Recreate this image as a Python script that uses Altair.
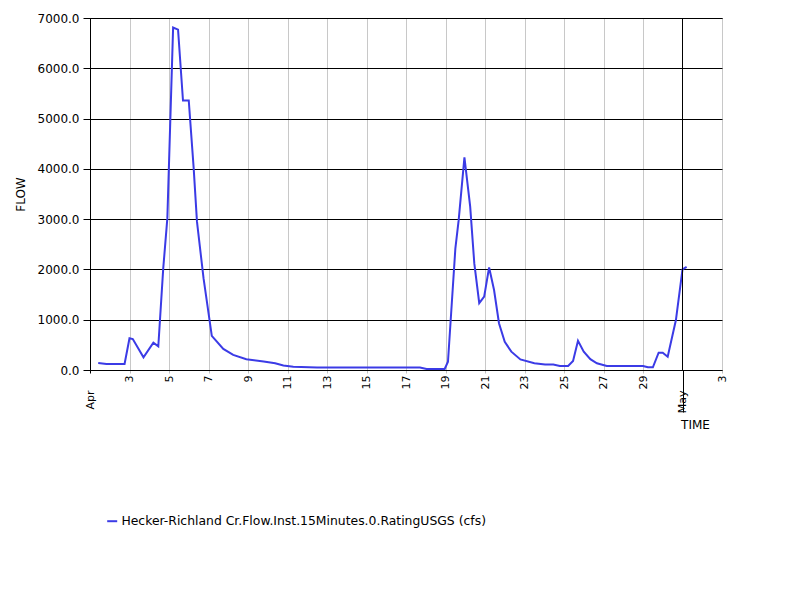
import altair as alt
import pandas as pd

series_name = "Hecker-Richland Cr.Flow.Inst.15Minutes.0.RatingUSGS (cfs)"

times = [
    "2024-04-01T10:00", "2024-04-01T20:00", "2024-04-02T18:00", "2024-04-03T00:00",
    "2024-04-03T04:00", "2024-04-03T17:00", "2024-04-04T05:00", "2024-04-04T11:00",
    "2024-04-04T17:00", "2024-04-04T22:00", "2024-04-05T05:00", "2024-04-05T11:00",
    "2024-04-05T17:00", "2024-04-06T00:00", "2024-04-06T06:00", "2024-04-06T10:00",
    "2024-04-06T18:00", "2024-04-07T04:00", "2024-04-07T18:00", "2024-04-08T06:00",
    "2024-04-08T22:00", "2024-04-09T19:00", "2024-04-10T09:00", "2024-04-10T19:00",
    "2024-04-11T07:00", "2024-04-12T12:00", "2024-04-17T17:00", "2024-04-18T01:00",
    "2024-04-18T23:00", "2024-04-19T03:00", "2024-04-19T12:00", "2024-04-19T16:00",
    "2024-04-19T23:00", "2024-04-20T06:00", "2024-04-20T11:00", "2024-04-20T17:00",
    "2024-04-20T23:00", "2024-04-21T05:00", "2024-04-21T11:00", "2024-04-21T17:00",
    "2024-04-22T00:00", "2024-04-22T08:00", "2024-04-22T19:00", "2024-04-23T12:00",
    "2024-04-24T01:00", "2024-04-24T11:00", "2024-04-24T19:00", "2024-04-25T05:00",
    "2024-04-25T11:00", "2024-04-25T17:00", "2024-04-26T00:00", "2024-04-26T08:00",
    "2024-04-26T16:00", "2024-04-27T04:00", "2024-04-29T00:00", "2024-04-29T06:00",
    "2024-04-29T12:00", "2024-04-29T19:00", "2024-04-30T00:00", "2024-04-30T06:00",
    "2024-04-30T16:00", "2024-05-01T00:00", "2024-05-01T05:00",
]
flow = [
    140, 120, 120, 630,
    615, 252, 543, 470,
    2020, 3020, 6810, 6770,
    5360, 5360, 4010, 2950,
    1820, 680, 420, 300,
    215, 170, 135, 90,
    66, 50, 50, 20,
    20, 165, 2420, 2980,
    4230, 3250, 2120, 1330,
    1460, 2040, 1590, 930,
    560, 365, 210, 135,
    110, 110, 80, 80,
    180, 580, 365, 215,
    133, 80, 80, 53,
    53, 344, 344, 265,
    994, 2000, 2050,
]

day_tick_days = [(4, d) for d in range(3, 30, 2)] + [(5, 3)]
month_tick_days = [(4, 1), (5, 1)]
month_line_dates = ["2024-05-01T00:00"]
y_ticks = [0, 1000, 2000, 3000, 4000, 5000, 6000, 7000]

df = pd.DataFrame({"time": times, "flow": flow, "series": [series_name] * len(times)})
df_month = pd.DataFrame({"time": month_line_dates})

x_domain = [alt.DateTime(year=2024, month=4, date=1), alt.DateTime(year=2024, month=5, date=3)]
x_scale = alt.Scale(domain=x_domain, nice=False)
y_scale = alt.Scale(domain=[0, 7000], nice=False)

is_may = "month(datum.value) == 4"

day_axis = alt.Axis(
    values=[alt.DateTime(year=2024, month=m, date=d) for m, d in day_tick_days],
    format="%-d", labelAngle=270, labelFontSize=11, labelPadding=2,
    tickSize=3, tickColor="#c0c0c0", grid=True, gridColor="#c8c8c8", gridWidth=1,
    domainColor="black", labelColor="black", labelFlush=False, labelOverlap=False,
    title=None, orient="bottom",
)
month_axis = alt.Axis(
    values=[alt.DateTime(year=2024, month=m, date=d) for m, d in month_tick_days],
    format="%b", labelAngle=270, labelFontSize=11,
    labelPadding={"condition": {"test": is_may, "value": -22}, "value": 17},
    tickSize={"condition": {"test": is_may, "value": 42}, "value": 3},
    tickColor="black", grid=False, domain=False, labelColor="black",
    labelFlush=False, labelOverlap=False, orient="bottom",
    title="TIME", titleX=605, titleY=54, titleFontSize=12, titleFontWeight="normal",
    titleAlign="center", titleBaseline="middle", titleColor="black",
)
y_axis = alt.Axis(
    values=y_ticks, format=".1f", labelFontSize=12, labelColor="black",
    tickSize=7, tickColor="black", grid=True, gridColor="black", gridWidth=1,
    domainColor="black", labelPadding=4,
    title="FLOW", titleFontWeight="normal", titleFontSize=12, titleColor="black",
    titleX=-70, titleY=176, titleAngle=270, titleAlign="center", titleBaseline="middle",
)

line = alt.Chart(df).mark_line(strokeWidth=2).encode(
    x=alt.X("time:T", scale=x_scale, axis=day_axis),
    y=alt.Y("flow:Q", scale=y_scale, axis=y_axis),
    color=alt.Color(
        "series:N",
        scale=alt.Scale(range=["#3b3be6"]),
        legend=alt.Legend(
            orient="none", legendX=16, legendY=497, title=None,
            symbolType="stroke", symbolSize=100, symbolStrokeWidth=2,
            labelFontSize=12.4, labelOffset=3, padding=0, labelLimit=0,
            labelColor="black",
        ),
    ),
)

month_rule = alt.Chart(df_month).mark_rule(color="black", strokeWidth=1).encode(
    x=alt.X("time:T", scale=x_scale, axis=month_axis),
    y=alt.datum(0),
    y2=alt.datum(7000),
)

chart = (
    alt.layer(line, month_rule)
    .resolve_axis(x="independent")
    .properties(
        width=632, height=352,
        padding={"left": 82, "top": 10, "right": 70, "bottom": 222},
        autosize=alt.AutoSizeParams(type="none"),
        background="white",
    )
    .configure(font="DejaVu Sans")
    .configure_view(stroke="black", strokeWidth=1)
)

chart.save("out.html", embed_options={"renderer": "svg", "actions": False})
